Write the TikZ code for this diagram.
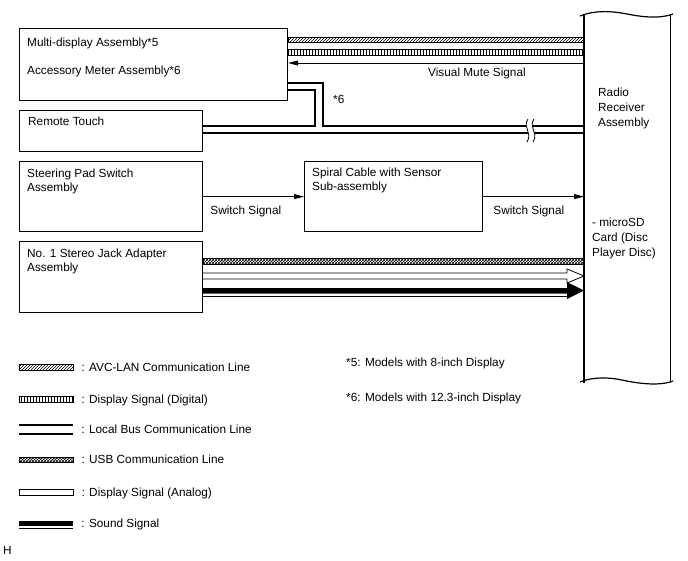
\documentclass[tikz,border=0pt]{standalone}
\usepackage{fontspec}
\setmainfont{Liberation Sans}
\usepackage{tikz}
\usetikzlibrary{arrows.meta}
\usetikzlibrary{patterns}
\usetikzlibrary{positioning}
\tikzset{%
    unit/.style={draw=black,line width=1.2pt,rectangle,inner sep=0pt,anchor=north west},
    txt/.style={inner sep=0pt,anchor=north west,align=left,font=\fontsize{11.8}{14}\selectfont},
    keytxt/.style={inner sep=0pt,text height=8.6pt,text depth=0pt,font=\fontsize{11.8}{14}\selectfont},
    key/.style={rectangle,inner sep=0pt,minimum width=54pt,minimum height=6pt}
}

\begin{document}
\begin{tikzpicture}[x=1pt,y=-1pt,
        bus/.style={line width=2.4pt,line join=miter},
        sig/.style={line width=0.8pt},
        tip/.style={-{Triangle[length=10pt,width=5pt]}},
        avc/.style={draw=black,line width=0.6pt,pattern=north east lines},
        dig/.style={draw=black,line width=0.6pt,pattern=vertical lines},
        usb/.style={draw=black,line width=0.6pt,pattern=crosshatch},
        ana/.style={draw=black,line width=0.8pt,fill=white},
        snd/.style={fill=black}
        ]
        \useasboundingbox (0,0) rectangle (688,560);

        % units
        \node[unit,minimum width=268pt,minimum height=72pt] (md) at (19,28){};
        \node[unit,minimum width=183pt,minimum height=41pt] (rt) at (19,110){};
        \node[unit,minimum width=183pt,minimum height=70pt] (sp) at (19,161){};
        \node[unit,minimum width=178pt,minimum height=70pt] (sc) at (304,161){};
        \node[unit,minimum width=183pt,minimum height=71pt] (sj) at (19,241){};
        \node[unit,draw=none,minimum width=85pt,minimum height=368pt] (rr) at (584,14){};

        \node[txt] (mdt) at ([shift={(8,10)}]md.north west) {Multi-display Assembly*5\\[13.5pt]Accessory Meter Assembly*6};
        \node[txt] (rtt) at ([shift={(9,7)}]rt.north west) {Remote Touch};
        \node[txt] (spt) at ([shift={(8,8)}]sp.north west) {Steering Pad Switch\\Assembly};
        \node[txt] (sct) at ([shift={(8,7)}]sc.north west) {Spiral Cable with Sensor\\Sub-assembly};
        \node[txt] (sjt) at ([shift={(8,8)}]sj.north west) {No. 1 Stereo Jack Adapter\\Assembly};

        % radio receiver, cut top and bottom
        \draw[line width=1.2pt] (rr.north west) -- (rr.south west);
        \draw[line width=1.2pt] (rr.north east) -- (rr.south east);
        \draw[line width=1.2pt] (580,16) .. controls (595,10) and (612,11) .. (627,14) .. controls (642,17) and (660,19) .. (673,14);
        \draw[line width=1.2pt] (580,382) .. controls (592,377) and (608,377) .. (622,380) .. controls (640,384) and (660,386) .. (673,381);
        \node[txt,font=\fontsize{11.8}{15}\selectfont] (rrt) at ([shift={(14,74)}]rr.north west) {Radio\\Receiver\\Assembly};
        \node[txt,font=\fontsize{11.8}{15}\selectfont] (rrm) at ([shift={(8,204)}]rr.north west) {- microSD\\Card (Disc\\Player Disc)};

        % lines to the radio
        \draw[avc] (md.east |- 0,37) rectangle (rr.west |- 0,42);
        \draw[dig] (md.east |- 0,49) rectangle (rr.west |- 0,55);
        \draw[sig,tip] (rr.west |- 0,63) -- (md.east |- 0,63);
        \node[txt] (vms) at (428,68) {Visual Mute Signal};

        \draw[bus] (md.east |- 0,83) -| (323,126) -- (rr.west |- 0,126);
        \draw[bus] (md.east |- 0,90) -| (315,126) -- (rt.east |- 0,126);
        \draw[bus] (rt.east |- 0,133) -- (rr.west |- 0,133);
        \node[txt] (n6) at (333,95) {*6};
        % break mark
        \fill[white] (528,119) .. controls (522,128) and (533,132) .. (527,142) -- (533,142) .. controls (539,132) and (528,128) .. (534,119) -- cycle;
        \draw[sig] (528,119) .. controls (522,128) and (533,132) .. (527,142);
        \draw[sig] (534,119) .. controls (528,128) and (539,132) .. (533,142);

        \draw[sig,tip] (sp.east) -- (sc.west);
        \draw[sig,tip] (sc.east) -- (sc.east -| rr.west);
        \node[txt] (sw1) at ([shift={(7,9)}]sp.east) {Switch Signal};
        \node[txt] (sw2) at ([shift={(10,9)}]sc.east) {Switch Signal};

        \draw[usb] (sj.east |- 0,258) rectangle (rr.west |- 0,264);
        \draw[ana] (sj.east |- 0,273) -- (567,273) -- (567,269) -- (rr.west |- 0,276) -- (567,283) -- (567,279) -- (sj.east |- 0,279);
        \fill[snd] (sj.east |- 0,288) -- (567,288) -- (567,282) -- (rr.west |- 0,290.5) -- (567,299) -- (567,293.5) -- (sj.east |- 0,293.5) -- cycle;
        \draw[sig] (sj.east |- 0,296.5) -- (567,296.5);

        % legend
        \node[key,avc] (kavc) at (46,367) {};
        \node[key,dig] (kdig) at (46,399.5) {};
        \node[key,minimum height=9pt] (kbus) at (46,429.5) {};
        \draw[bus] (kbus.north west) -- (kbus.north east);
        \draw[bus] (kbus.south west) -- (kbus.south east);
        \node[key,usb,minimum height=5pt] (kusb) at (46,459.5) {};
        \node[key,ana] (kana) at (46,492) {};
        \node[key,snd,minimum height=5pt] (ksnd) at (46,523.5) {};
        \draw[sig] ([yshift=-2.5pt]ksnd.south west) -- ([yshift=-2.5pt]ksnd.south east);

        \node[keytxt,right=8pt of kavc] {: AVC-LAN Communication Line};
        \node[keytxt,right=8pt of kdig] {: Display Signal (Digital)};
        \node[keytxt,right=8pt of kbus] {: Local Bus Communication Line};
        \node[keytxt,right=8pt of kusb] {: USB Communication Line};
        \node[keytxt,right=8pt of kana] {: Display Signal (Analog)};
        \node[keytxt,right=8pt of ksnd] {: Sound Signal};

        \node[txt] (f5) at (346,358) {*5: Models with 8-inch Display};
        \node[txt] (f6) at (346,393) {*6: Models with 12.3-inch Display};
        \node[txt] (hh) at (3,546) {H};
    \end{tikzpicture}
\end{document}
